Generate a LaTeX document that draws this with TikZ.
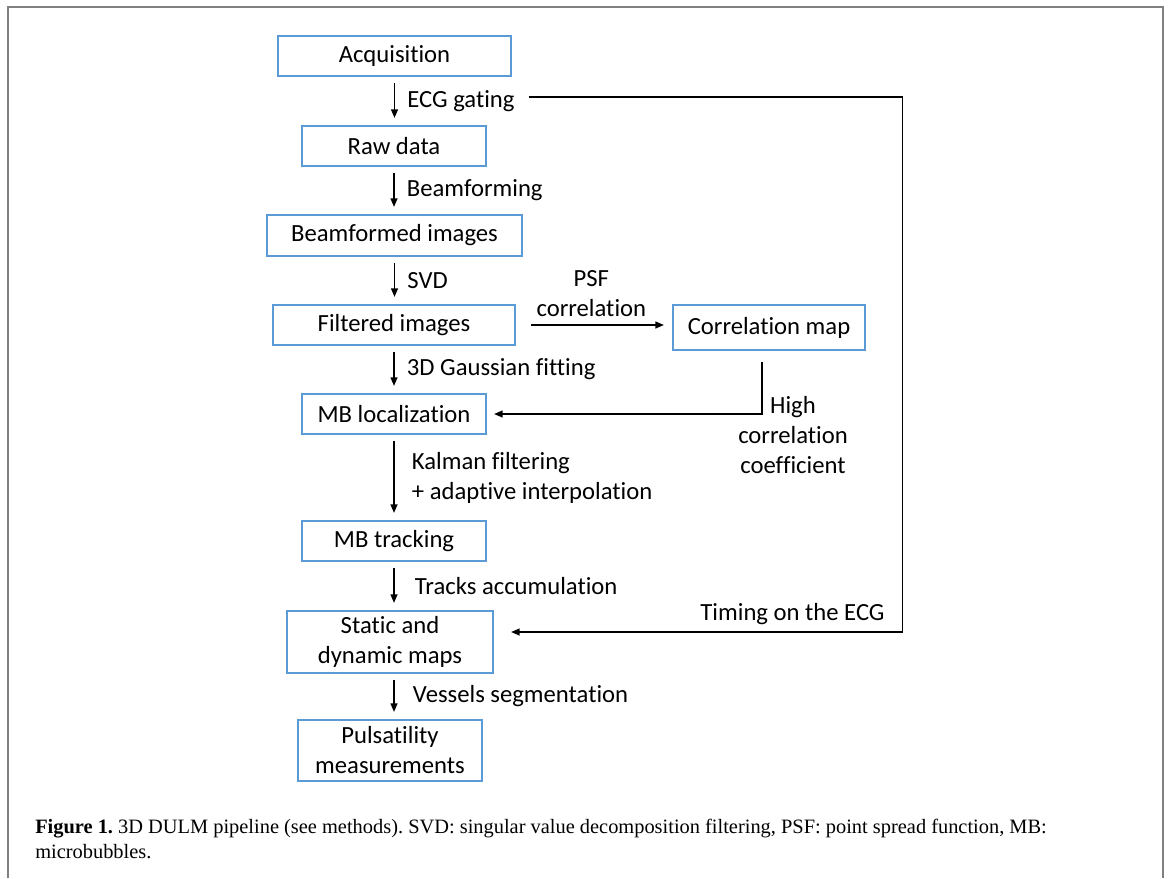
\documentclass[tikz,border=0pt]{standalone}
\usepackage{fontspec}
\setmainfont{Carlito}[Ligatures=NoCommon]
\newfontfamily\capfont{Liberation Serif}
\usetikzlibrary{arrows.meta}
\definecolor{boxblue}{RGB}{91,155,213}
\definecolor{framegray}{RGB}{128,128,128}
\newdimen\gu \gu=7.5pt
\frenchspacing

\begin{document}
\begin{tikzpicture}[x=7.5pt,y=7.5pt,
  stage/.style={draw=boxblue, line width=1.4pt, inner sep=0pt, align=center,
    font=\fontsize{18.5}{22.5}\selectfont},
  lbl/.style={inner sep=0pt, align=left, font=\fontsize{18.5}{22.5}\selectfont},
  flow/.style={line width=1.45pt, -{Triangle[length=6.5pt,width=5pt]}},
  down/.style={flow, shorten <=4.5pt, shorten >=5.25pt}]
\useasboundingbox (0,0) rectangle (117,-87.8);
\draw[framegray, line width=1.1pt] (0.8,-87.8) -- (0.8,-0.7) -- (116.3,-0.7) -- (116.3,-87.8);

% pipeline stages
\node[stage, minimum width=23.3\gu, minimum height=4\gu] (acq) at (39.45,-5.6) {Acquisition};
\node[stage, minimum width=18.4\gu, minimum height=4\gu] (raw) at (39.4,-14.6) {Raw data};
\node[stage, minimum width=25.5\gu, minimum height=4.1\gu] (beam) at (39.45,-23.55) {Beamformed images};
\node[stage, minimum width=24.2\gu, minimum height=4\gu] (filt) at (39.4,-32.5) {Filtered images};
\node[stage, minimum width=19.2\gu, minimum height=4.5\gu] (corr) at (76.9,-32.75) {Correlation map};
\node[stage, minimum width=18.4\gu, minimum height=4\gu] (loc) at (39.4,-41.4) {MB localization};
\node[stage, minimum width=18.4\gu, minimum height=4\gu] (track) at (39.4,-54.1) {MB tracking};
\node[stage, minimum width=20.6\gu, minimum height=6.2\gu] (maps) at (39.0,-64.2) {Static and\\dynamic maps};
\node[stage, minimum width=18.4\gu, minimum height=6.1\gu] (puls) at (39.0,-75.05) {Pulsatility\\measurements};

% main chain
\draw[down] (acq.south) -- (acq.south |- raw.north) node[lbl, midway, anchor=west, xshift=9pt] (ecg) {ECG gating};
\draw[down] (raw.south) -- (raw.south |- beam.north) node[lbl, midway, anchor=west, xshift=9pt] (bf) {Beamforming};
\draw[down] (beam.south) -- (beam.south |- filt.north) node[lbl, midway, anchor=west, xshift=9pt] (svd) {SVD};
\draw[down] (filt.south) -- (filt.south |- loc.north) node[lbl, midway, anchor=west, xshift=9pt] (fit) {3D Gaussian fitting};
\draw[down] (loc.south) -- (loc.south |- track.north) node[lbl, midway, anchor=west, xshift=12.75pt] (kal) {Kalman filtering\\+ adaptive interpolation};
\draw[down] (track.south) -- (track.south |- maps.north) node[lbl, midway, anchor=west, xshift=15pt] (acc) {Tracks accumulation};
\draw[down] (maps.south -| track.south) -- (puls.north -| track.south) node[lbl, midway, anchor=west, xshift=13.5pt] (seg) {Vessels segmentation};

% correlation branch
\draw[flow, shorten <=11.25pt, shorten >=6pt] (filt.east) -- (filt.east -| corr.west)
  node[lbl, midway, anchor=south, align=center, yshift=5.25pt, xshift=-2pt] (psf) {PSF\\correlation};
\coordinate (hcc) at (76.2,-41.4);
\draw[flow, shorten <=8.25pt, shorten >=5.25pt] (corr.south -| hcc) -- (hcc) -- (loc.east);
\node[lbl, align=center, anchor=north] (hcctxt) at ([xshift=23.25pt,yshift=13.5pt]hcc) {High\\correlation\\coefficient};

% ECG timing loop
\coordinate (ecgtop) at (90.25,-9.7);
\coordinate (ecgbot) at (90.25,-63.2);
\draw[flow, shorten <=9.75pt, shorten >=12.75pt] (ecgtop -| ecg.east) -- (ecgtop) -- (ecgbot)
  node[lbl, anchor=south east, xshift=-12.75pt, yshift=4.5pt] (timing) {Timing on the ECG}
  -- (ecgbot -| maps.east);

% caption
\node[anchor=base west, inner sep=0pt, font=\capfont\fontsize{15.3}{18}\selectfont] (capa) at (3.5,-83.3)
  {\textbf{Figure 1.} 3D DULM pipeline (see methods). SVD: singular value decomposition filtering, PSF: point spread function, MB:};
\node[anchor=base west, inner sep=0pt, font=\capfont\fontsize{15.3}{18}\selectfont] (capb) at (3.5,-85.8) {microbubbles.};
\end{tikzpicture}
\end{document}
